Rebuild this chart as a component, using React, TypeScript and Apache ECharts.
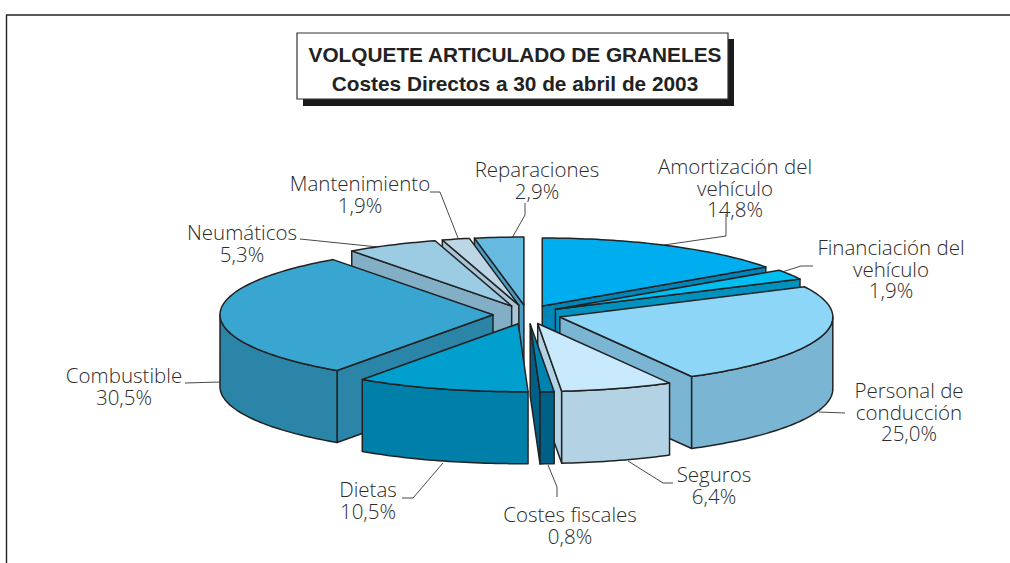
import React, { useEffect, useRef } from "react";
import * as echarts from "echarts";

const names = ["Amortización", "Financiación", "Personal", "Seguros", "Costes fiscales", "Dietas", "Combustible", "Neumáticos", "Mantenimiento", "Reparaciones"];
const values = [14.8, 1.9, 25.0, 6.4, 0.8, 10.5, 30.5, 5.3, 1.9, 2.9];
const valueLabels = ["14,8%", "1,9%", "25,0%", "6,4%", "0,8%", "10,5%", "30,5%", "5,3%", "1,9%", "2,9%"];
const nameLines = [
  ["Amortización del", "vehículo"],
  ["Financiación del", "vehículo"],
  ["Personal de", "conducción"],
  ["Seguros"],
  ["Costes fiscales"],
  ["Dietas"],
  ["Combustible"],
  ["Neumáticos"],
  ["Mantenimiento"],
  ["Reparaciones"],
];
const titleLines = ["VOLQUETE ARTICULADO DE GRANELES", "Costes Directos a 30 de abril de 2003"];

const topColors = ["#00AEEF", "#00BDF2", "#8DD6F8", "#C8E9FB", "#0083AE", "#009FCE", "#38A6D0", "#9CCBE4", "#BDD6E6", "#66BAE0"];
const wallColors = ["#0085B8", "#0092BF", "#7AB5D3", "#B3D3E5", "#005F85", "#007FA8", "#2A85A8", "#83AFC6", "#A8C6D8", "#4D9DC4"];

// layout
const CX = 527, CY = 314.5, RX = 273, RY = 68, DEPTH = 72, EX = 34, EY = 9.5;
// small drawing correction of each slice boundary, in degrees (end of each slice)
const boundaryTweak = [1.7, 3.5, 1.0, 1.8, 1.9, 1.0, 0.5, 1.0, 0, 0];
const labelPos: [number, number][] = [
  [735, 166], [891, 247], [909, 390], [714, 474], [570, 514],
  [368, 489], [124, 375], [242, 232], [360, 183], [537, 169],
];
const leaders: [number, number][][] = [
  [[726, 214], [726, 236], [664, 245]],
  [[782, 272], [801, 266], [813, 266]],
  [[819, 412], [845, 413]],
  [[628, 461], [663, 483], [673, 483]],
  [[548, 465], [557, 487], [557, 497]],
  [[443, 463], [413, 498], [402, 498]],
  [[185, 383], [220, 382]],
  [[300, 239], [378, 247]],
  [[430, 192], [440, 192], [458, 238]],
  [[525, 203], [525, 215], [512, 238]],
];
const LABEL_FONT = "Open Sans";
const LH = 21.5;
const STROKE = "#222222";

const total = values.reduce((a, b) => a + b, 0);
const angles: [number, number][] = [];
const mids: number[] = [];
{
  let c = 0;
  const rad = Math.PI / 180;
  values.forEach((v, i) => {
    const s = (c / total) * Math.PI * 2;
    c += v;
    const e = (c / total) * Math.PI * 2;
    mids.push((s + e) / 2);
    angles.push([s + (i > 0 ? boundaryTweak[i - 1] * rad : 0), e + boundaryTweak[i] * rad]);
  });
}
const order = values.map((_, i) => i).sort((a, b) => Math.cos(mids[b]) - Math.cos(mids[a]));

function renderSlice(params: any, api: any) {
  const i = api.value(0) as number;
  const [a0, a1] = angles[i];
  const mid = mids[i];
  const ax = CX + EX * Math.sin(mid);
  const ay = CY - EY * Math.cos(mid);
  const pt = (t: number, d = 0): number[] => [ax + RX * Math.sin(t), ay - RY * Math.cos(t) + d];
  const arc = (s: number, e: number, d = 0) => {
    const n = Math.max(2, Math.ceil((e - s) / 0.02));
    const out: number[][] = [];
    for (let k = 0; k <= n; k++) out.push(pt(s + ((e - s) * k) / n, d));
    return out;
  };
  const poly = (points: number[][], fill: string) => ({
    type: "polygon",
    shape: { points },
    style: { fill, stroke: STROKE, lineWidth: 1.5, lineJoin: "round" },
  });
  const children: any[] = [];
  const wall = wallColors[i];
  const cut = (t: number) => poly([[ax, ay], pt(t), pt(t, DEPTH), [ax, ay + DEPTH]], wall);
  if (Math.sin(a0) < -1e-6) children.push(cut(a0));
  if (Math.sin(a1) > 1e-6) children.push(cut(a1));
  const ws = Math.max(a0, Math.PI / 2);
  const we = Math.min(a1, (Math.PI * 3) / 2);
  if (we > ws) children.push(poly([...arc(ws, we), ...arc(ws, we, DEPTH).reverse()], wall));
  children.push(poly([[ax, ay], ...arc(a0, a1)], topColors[i]));
  return { type: "group", children };
}

function renderLabel(params: any, api: any) {
  const i = api.value(0) as number;
  const lines = [...nameLines[i], valueLabels[i]];
  const [x, y] = labelPos[i];
  const children: any[] = [
    {
      type: "polyline",
      shape: { points: leaders[i] },
      style: { fill: "none", stroke: "#333333", lineWidth: 0.9 },
    },
  ];
  lines.forEach((t, k) => {
    children.push({
      type: "text",
      x,
      y: y + k * LH,
      style: {
        text: t,
        fill: "#2b2b2b",
        font: `300 20.5px "${LABEL_FONT}"`,
        textAlign: "center",
        textVerticalAlign: "middle",
      },
    });
  });
  return { type: "group", children };
}

export default function App() {
  const ref = useRef<HTMLDivElement>(null);
  useEffect(() => {
    const chart = echarts.init(ref.current!, undefined, { renderer: "svg" });
    chart.setOption({
      animation: false,
      backgroundColor: "#ffffff",
      series: [
        { type: "custom", coordinateSystem: "none", silent: true, z: 2, data: order.map((i) => [i, values[i]]), renderItem: renderSlice, encode: {} },
        { type: "custom", coordinateSystem: "none", silent: true, z: 1, data: values.map((v, i) => [i, v]), renderItem: renderLabel, encode: {} },
      ],
      graphic: [
        { type: "line", shape: { x1: 6.5, y1: 15, x2: 6.5, y2: 563 }, style: { stroke: "#222", lineWidth: 1.4 } },
        { type: "line", shape: { x1: 6, y1: 15, x2: 1010, y2: 15 }, style: { stroke: "#222", lineWidth: 1.4 } },
        { type: "rect", shape: { x: 303, y: 39, width: 431, height: 67 }, style: { fill: "#1a1a1a" } },
        { type: "rect", shape: { x: 297, y: 33, width: 431, height: 66 }, style: { fill: "#ffffff", stroke: "#333", lineWidth: 1.2 } },
        { type: "text", x: 515, y: 54, style: { text: titleLines[0], fill: "#222", font: 'bold 20.8px "Liberation Sans"', textAlign: "center", textVerticalAlign: "middle" } },
        { type: "text", x: 515, y: 83, style: { text: titleLines[1], fill: "#222", font: 'bold 20.8px "Liberation Sans"', textAlign: "center", textVerticalAlign: "middle" } },
      ],
    });
    return () => chart.dispose();
  }, []);
  return <div ref={ref} style={{ position: "fixed", left: 0, top: 0, width: 1010, height: 563 }} />;
}
